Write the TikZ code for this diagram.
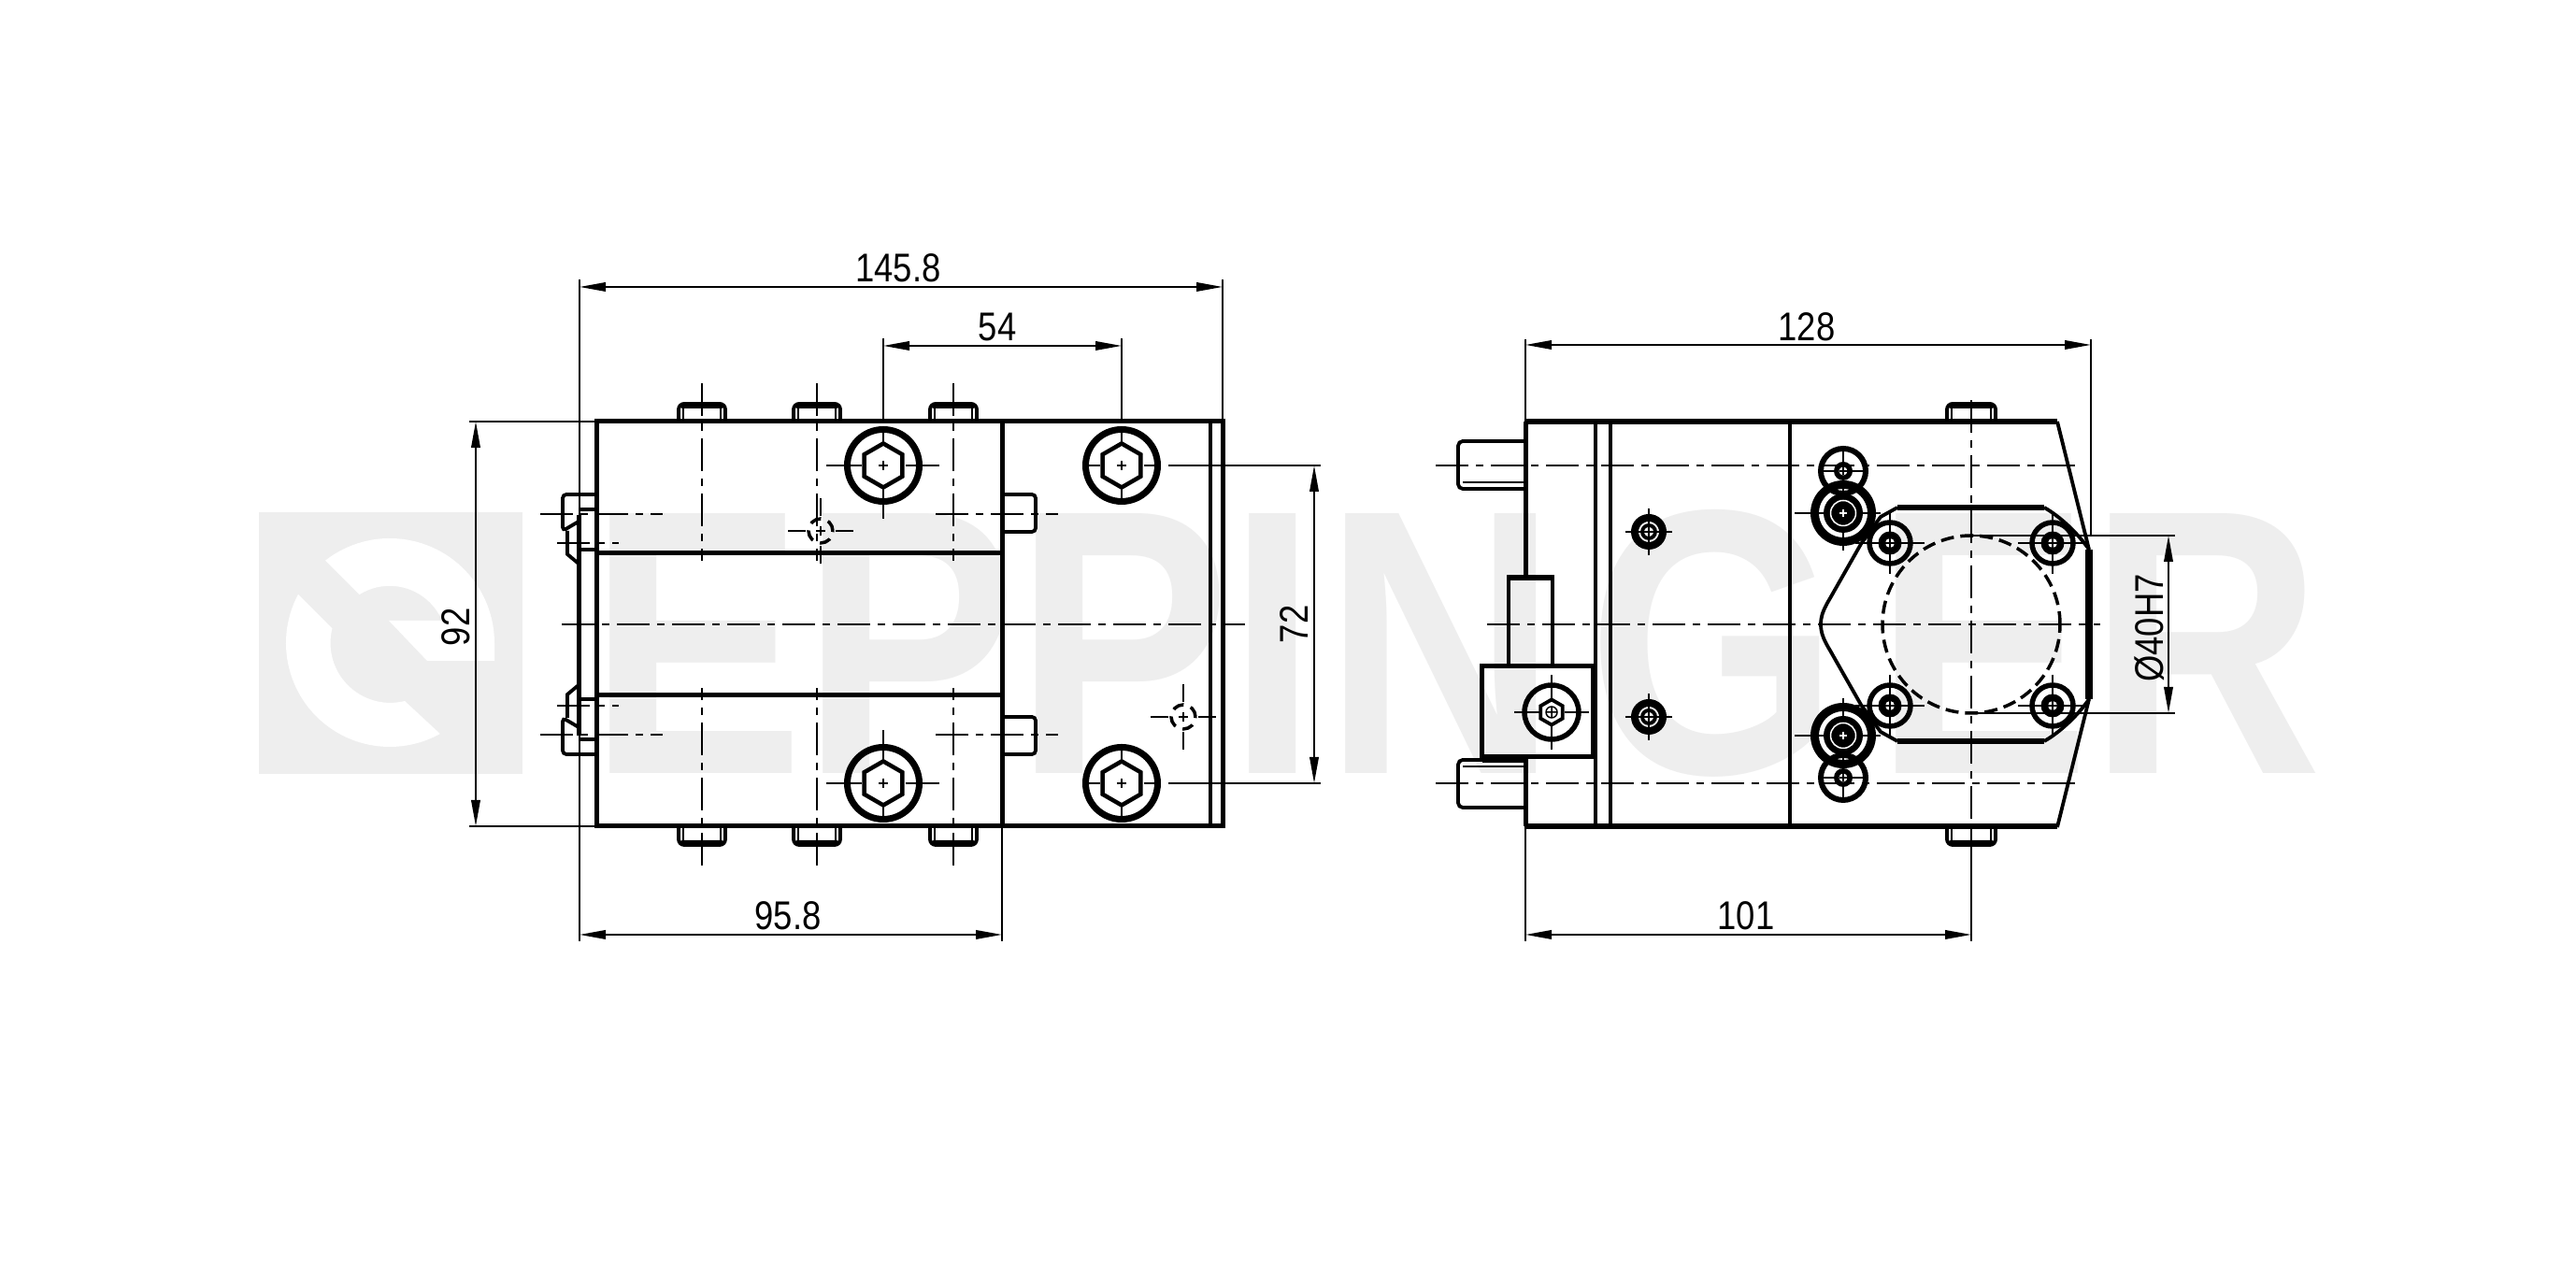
\documentclass[tikz,border=0pt]{standalone}
\usepackage{fontspec}
\setmainfont{Liberation Sans}[FakeStretch=0.85]
\newfontfamily\markfont{Liberation Sans Bold}
\usetikzlibrary{arrows.meta}
\definecolor{markgray}{HTML}{EEEEEE}
\tikzset{
	edgeline/.style={line width=0.5mm},
	midline/.style={line width=0.38mm},
	thinline/.style={line width=0.2mm},
	extline/.style={line width=0.15mm},
	axisline/.style={line width=0.2mm,dash pattern=on 0.35cm off 0.08cm on 0.08cm off 0.08cm},
	dimline/.style={line width=0.2mm,{Triangle[length=2.8mm,width=0.95mm]}-{Triangle[length=2.8mm,width=0.95mm]}},
	dimtext/.style={inner sep=0pt,font=\fontsize{12.2}{14}\selectfont}
}
% socket head bolt seen from above
\def\hexbolt(#1,#2){
	\draw[line width=0.7mm] (#1,#2) circle (0.385);
	\draw[line width=0.45mm] (#1,#2) +(90:0.235) -- +(150:0.235) -- +(210:0.235) -- +(270:0.235) -- +(330:0.235) -- +(30:0.235) -- cycle;
	\draw[thinline] (#1,#2) +(-0.40,0) -- +(-0.235,0) +(0.235,0) -- +(0.40,0) +(0,0.40) -- +(0,0.235) +(0,-0.40) -- +(0,-0.235);
	\draw[extline] (#1,#2) +(-0.05,0) -- +(0.05,0) +(0,-0.05) -- +(0,0.05);
}
% small hidden bore with its cross
\def\boremark(#1,#2){
	\draw[line width=0.35mm,dash pattern=on 0.12cm off 0.08cm] (#1,#2) circle (0.13);
	\draw[thinline] (#1,#2) +(-0.35,0) -- +(-0.16,0) +(0.16,0) -- +(0.35,0) +(0,-0.35) -- +(0,-0.16) +(0,0.16) -- +(0,0.35);
	\draw[extline] (#1,#2) +(-0.05,0) -- +(0.05,0) +(0,-0.05) -- +(0,0.05);
}
% screw sticking out of the top face
\def\topscrew(#1,#2,#3){
	\draw[midline,rounded corners=0.06cm] (#1-#3,#2) -- (#1-#3,#2+0.19) -- (#1+#3,#2+0.19) -- (#1+#3,#2);
	\fill[rounded corners=0.04cm] (#1-#3,#2+0.14) rectangle (#1+#3,#2+0.2);
	\draw[extline] (#1-#3+0.05,#2) -- (#1-#3+0.05,#2+0.14) (#1+#3-0.05,#2) -- (#1+#3-0.05,#2+0.14);
}
% ring with black core
\def\corebolt(#1,#2)(#3:#4:#5){
	\draw[line width=#4mm] (#1,#2) circle (#3);
	\fill (#1,#2) circle (#5);
}
% white hole in such a core
\def\whitehole(#1,#2)(#3){
	\fill[white] (#1,#2) circle (#3);
	\draw[extline] (#1,#2) +(-#3,0) -- +(#3,0) +(0,-#3) -- +(0,#3);
}

\begin{document}
\begin{tikzpicture}
	\useasboundingbox (0,0) rectangle (27.56,13.78);
	%%%%% WATERMARK %%%%%
	\fill[markgray] (2.77,5.50) rectangle (5.59,8.30);
	\fill[white] (4.17,6.90) ++(128:1.12) arc (128:0:1.12) -- (5.29,6.71) -- (4.57,6.71) -- (4.16,7.14) -- (4.73,7.14) arc (23:122:0.61) -- cycle;
	\fill[white] (4.17,6.90) ++(152:1.11) arc (152:299:1.11) -- (4.33,6.28) arc (284:166:0.64) -- cycle;
	\node[markgray,inner sep=0pt,anchor=base west,xscale=0.858] (markname) at (6.29,5.50) {\markfont\fontsize{115}{115}\selectfont E\kern-0.01em P\kern-0.01em P\kern-0.01em I\kern0.02em N\kern0.09em G\kern0.11em E\kern-0.01em R};

	%%%%% LEFT VIEW %%%%%
	\draw[edgeline] (6.38,4.94) rectangle (13.08,9.27);
	\draw[edgeline] (10.72,4.94) -- (10.72,9.27);
	\draw[midline] (12.95,4.94) -- (12.95,9.27);
	\draw[axisline] (6.01,7.10) -- (13.32,7.10);
	\draw[edgeline] (6.19,5.91) -- (6.19,8.27);
	\foreach \s in {1,-1}{
		\begin{scope}[shift={(0,7.10)},yscale=\s]
			\draw[edgeline] (6.38,0.76) -- (10.72,0.76);
			\foreach \x in {7.51,8.74,10.20}{
				\topscrew(\x,2.17,0.25)
				\draw[axisline] (\x,2.58) -- (\x,0.68);
			}
			\hexbolt(9.45,1.70)
			\hexbolt(12.00,1.70)
			\draw[thinline] (9.45,1.28) -- (9.45,1.13);
			\draw[axisline] (8.84,1.70) -- (9.05,1.70);
			\draw[axisline] (9.85,1.70) -- (10.05,1.70);
			% pins on the left edge
			\draw[midline,rounded corners=0.04cm] (6.38,1.39) -- (6.02,1.39) -- (6.02,1.00) -- (6.19,1.10);
			\draw[midline] (6.38,1.23) -- (6.19,1.23);
			\draw[midline] (6.38,0.80) -- (6.19,0.80);
			\draw[midline] (6.07,1.00) -- (6.07,0.75) -- (6.19,0.65);
			\draw[axisline] (5.78,1.18) -- (7.09,1.18);
			\draw[axisline] (5.96,0.87) -- (6.62,0.87);
			% pin on the right of the block
			\draw[midline,rounded corners=0.04cm] (10.72,1.39) -- (11.08,1.39) -- (11.08,0.99) -- (10.72,0.99);
			\draw[axisline] (10.01,1.18) -- (11.32,1.18);
		\end{scope}
	}
	\boremark(8.78,8.10)
	\boremark(12.66,6.11)

	%%%%% RIGHT VIEW %%%%%
	\draw[line width=0.55mm] (16.32,9.27) -- (22.01,9.27);
	\draw[line width=0.55mm] (16.32,4.94) -- (22.01,4.94);
	\draw[edgeline] (16.32,9.27) -- (16.32,7.60);
	\draw[edgeline] (16.32,5.68) -- (16.32,4.94);
	\draw[midline] (17.07,4.94) -- (17.07,9.27);
	\draw[midline] (17.23,4.94) -- (17.23,9.27);
	\draw[midline] (19.15,4.94) -- (19.15,9.27);
	\draw[line width=0.85mm] (22.35,6.30) -- (22.35,7.90);
	% clamp with its stem
	\draw[edgeline] (15.85,5.68) rectangle (17.04,6.65);
	\draw[midline] (16.14,6.65) -- (16.14,7.60);
	\draw[midline] (16.61,6.65) -- (16.61,7.60);
	\draw[line width=0.55mm] (16.12,7.60) -- (16.63,7.60);
	\fill (15.86,5.62) rectangle (16.32,5.70);
	\draw[line width=0.55mm] (16.60,6.16) circle (0.29);
	\draw[midline] (16.60,6.16) +(90:0.135) -- +(150:0.135) -- +(210:0.135) -- +(270:0.135) -- +(330:0.135) -- +(30:0.135) -- cycle;
	\draw[extline] (16.60,6.16) circle (0.06) +(-0.05,0) -- +(0.05,0) +(0,-0.05) -- +(0,0.05);
	\draw[thinline] (16.60,6.16) +(-0.40,0) -- +(-0.135,0) +(0.135,0) -- +(0.40,0) +(0,-0.40) -- +(0,-0.135) +(0,0.135) -- +(0,0.40);
	\draw[axisline] (15.91,7.10) -- (22.47,7.10);
	\draw[axisline] (21.09,9.50) -- (21.09,4.94);
	\draw[line width=0.35mm,dash pattern=on 0.14cm off 0.07cm] (21.09,7.10) circle (0.95);
	\foreach \s in {1,-1}{
		\begin{scope}[shift={(0,7.10)},yscale=\s]
			\topscrew(21.09,2.17,0.26)
			\draw[midline] (22.01,2.17) -- (22.35,0.80);
			\draw[axisline] (15.36,1.70) -- (22.24,1.70);
			\draw[midline,rounded corners=0.05cm] (16.32,1.96) -- (15.60,1.96) -- (15.60,1.45) -- (16.32,1.45);
			\draw[extline] (15.65,1.52) -- (16.32,1.52);
			% plate outline, one half
			\draw[midline] (19.48,0) .. controls (19.48,0.10) and (19.52,0.18) .. (19.58,0.28) -- (19.91,0.86) -- (20.12,1.15) -- (20.30,1.25);
			\draw[line width=0.55mm] (20.30,1.25) -- (21.87,1.25);
			\draw[midline] (21.87,1.25) .. controls (22.05,1.15) and (22.25,0.95) .. (22.35,0.80);
			% bolts at the corner of the plate
			\corebolt(19.72,1.19)(0.305:0.9:0.21)
			\draw[white,line width=0.15mm] (19.72,1.19) circle (0.135);
			\draw[white,line width=0.15mm] (19.72,1.19) +(-0.04,0) -- +(0.04,0) +(0,-0.04) -- +(0,0.04);
			\draw[thinline] (19.72,1.19) +(-0.52,0) -- +(-0.21,0) +(0.21,0) -- +(0.40,0) +(0,-0.40) -- +(0,-0.21) +(0,0.21) -- +(0,0.40);
			\corebolt(19.72,1.64)(0.24:0.6:0.10)
			\whitehole(19.72,1.64)(0.045)
			\draw[thinline] (19.72,1.64) +(-0.27,0) -- +(-0.10,0) +(0.10,0) -- +(0.27,0) +(0,-0.27) -- +(0,-0.10) +(0,0.10) -- +(0,0.27);
			% bolts on the plate
			\foreach \x in {20.22,21.96}{
				\corebolt(\x,0.87)(0.22:0.55:0.125)
				\whitehole(\x,0.87)(0.05)
				\draw[thinline] (\x,0.87) +(-0.37,0) -- +(-0.12,0) +(0.12,0) -- +(0.37,0) +(0,-0.33) -- +(0,-0.12) +(0,0.12) -- +(0,0.33);
			}
			% small bolt on the side face
			\draw[line width=0.8mm] (17.64,0.99) circle (0.15);
			\draw[midline] (17.64,0.99) circle (0.07);
			\draw[thinline] (17.64,0.99) +(-0.25,0) -- +(-0.07,0) +(0.07,0) -- +(0.25,0) +(0,-0.25) -- +(0,-0.07) +(0,0.07) -- +(0,0.25);
			\draw[extline] (17.64,0.99) +(-0.05,0) -- +(0.05,0) +(0,-0.05) -- +(0,0.05);
		\end{scope}
	}

	%%%%% DIMENSIONS %%%%%
	\draw[extline] (6.20,3.71) -- (6.20,10.79);
	\draw[extline] (13.08,9.27) -- (13.08,10.79);
	\draw[extline] (9.45,9.27) -- (9.45,10.16);
	\draw[extline] (12.00,9.27) -- (12.00,10.16);
	\draw[extline] (10.72,4.94) -- (10.72,3.71);
	\draw[thinline] (5.02,9.27) -- (6.38,9.27);
	\draw[thinline] (5.02,4.94) -- (6.38,4.94);
	\draw[thinline] (12.50,8.80) -- (14.13,8.80);
	\draw[thinline] (12.50,5.40) -- (14.13,5.40);
	\draw[dimline] (6.20,10.71) -- (13.08,10.71);
	\draw[dimline] (9.45,10.08) -- (12.00,10.08);
	\draw[dimline] (5.09,9.27) -- (5.09,4.94);
	\draw[dimline] (14.06,8.80) -- (14.06,5.40);
	\draw[dimline] (6.20,3.78) -- (10.72,3.78);
	\node[dimtext] (len145) at (9.61,10.91) {145.8};
	\node[dimtext] (len54) at (10.67,10.28) {54};
	\node[dimtext,rotate=90] (high92) at (4.88,7.07) {92};
	\node[dimtext,rotate=90] (high72) at (13.85,7.10) {72};
	\node[dimtext] (len95) at (8.43,3.98) {95.8};

	\draw[extline] (16.32,9.27) -- (16.32,10.15);
	\draw[extline] (22.37,8.05) -- (22.37,10.15);
	\draw[extline] (16.32,4.94) -- (16.32,3.71);
	\draw[extline] (21.09,4.94) -- (21.09,3.71);
	\draw[thinline] (21.09,8.05) -- (23.27,8.05);
	\draw[thinline] (21.09,6.15) -- (23.27,6.15);
	\draw[dimline] (16.32,10.09) -- (22.37,10.09);
	\draw[dimline] (16.32,3.78) -- (21.09,3.78);
	\draw[dimline] (23.20,8.05) -- (23.20,6.15);
	\node[dimtext] (len128) at (19.33,10.28) {128};
	\node[dimtext] (len101) at (18.68,3.98) {101};
	\node[dimtext,rotate=90] (bore40) at (23.00,7.06) {Ø40H7};
\end{tikzpicture}
\end{document}
